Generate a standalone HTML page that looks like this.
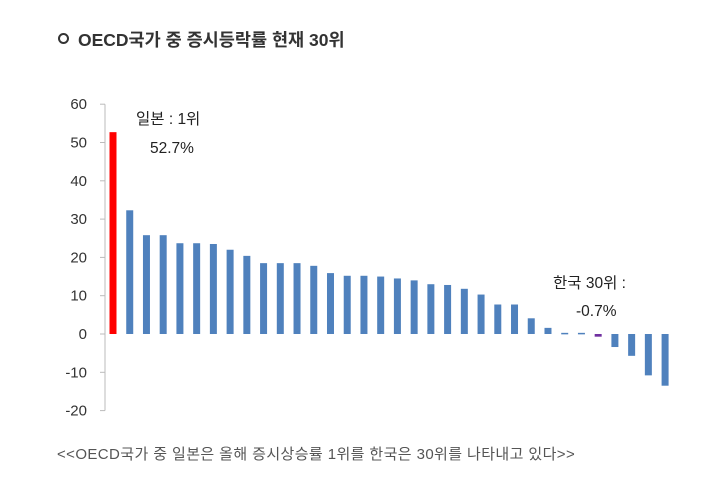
<!DOCTYPE html>
<html><head><meta charset="utf-8"><style>
body{margin:0;background:#fff;width:703px;height:478px;overflow:hidden;font-family:"Liberation Sans","Noto Sans CJK KR",sans-serif;}
#t{position:absolute;left:58px;top:27px;font-size:17.5px;font-weight:bold;color:#333;white-space:nowrap;}
#c{position:absolute;left:57px;top:443px;font-size:15px;letter-spacing:0.4px;color:#555;white-space:nowrap;}
</style></head><body>
<div id="t"><span style="display:inline-block;width:7px;height:7px;border:2px solid #333;border-radius:50%;margin-right:9px;vertical-align:2px"></span>OECD국가 중 증시등락률 현재 30위</div>
<svg width="703" height="478" style="position:absolute;left:0;top:0">
<g id="ax"></g><g id="bars"></g>
<text x="136" y="124" font-size="15.5" fill="#222" font-family="Liberation Sans, Noto Sans CJK KR, sans-serif">일본 : 1위</text>
<text x="150" y="153" font-size="15.5" fill="#222" font-family="Liberation Sans, Noto Sans CJK KR, sans-serif">52.7%</text>
<text x="553" y="288" font-size="15.5" fill="#222" font-family="Liberation Sans, Noto Sans CJK KR, sans-serif">한국 30위 :</text>
<text x="576" y="316" font-size="15.5" fill="#222" font-family="Liberation Sans, Noto Sans CJK KR, sans-serif">-0.7%</text>
</svg>
<div id="c">&lt;&lt;OECD국가 중 일본은 올해 증시상승률 1위를 한국은 30위를 나타내고 있다&gt;&gt;</div>
<script>
const values=[52.7,32.3,25.8,25.8,23.7,23.7,23.5,22,20.4,18.5,18.5,18.5,17.8,15.9,15.2,15.2,15.0,14.5,14.0,13.0,12.8,11.8,10.3,7.7,7.7,4.1,1.6,0.3,0.3,-0.7,-3.4,-5.7,-10.8,-13.5];
const ticks=[60,50,40,30,20,10,0,-10,-20];
const highlight={0:'#ff0000',29:'#7030a0'};
const NS='http://www.w3.org/2000/svg';
const y=v=>334-v*3.83;
const x=i=>113+i*16.73;
const ax=document.getElementById('ax'),bg=document.getElementById('bars');
function mk(p,tag,a){const e=document.createElementNS(NS,tag);for(const k in a)e.setAttribute(k,a[k]);p.appendChild(e);return e;}
const al=mk(ax,'line',{x1:105,x2:105,y1:y(60),y2:y(-20),stroke:'#bbb'});


ticks.forEach(t=>{
 const l=mk(ax,'line',{x1:100,x2:105,y1:y(t),y2:y(t),stroke:'#bbb'});
 
 
 const tx=mk(ax,'text',{x:87,y:y(t)+5,'text-anchor':'end','font-size':15,fill:'#333','font-family':'Liberation Sans, sans-serif'});
 tx.textContent=t;
 
 
});
values.forEach((v,i)=>{
 const top=Math.min(y(v),y(0)),h=Math.max(Math.abs(y(v)-y(0)),1.5);
 const r=mk(bg,'rect',{x:x(i)-3.5,y:top,width:7,height:h,fill:highlight[i]||'#4f81bd'});
 
 
});
</script>
</body></html>
